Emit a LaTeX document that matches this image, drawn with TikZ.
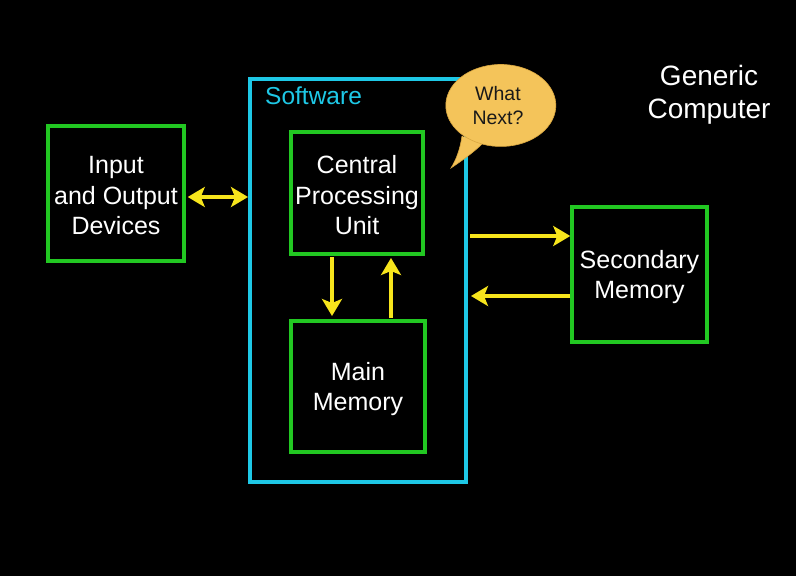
\documentclass[tikz,border=0pt]{standalone}
\usepackage{fontspec}
\setmainfont{Liberation Sans}
\usetikzlibrary{arrows.meta,shapes.geometric}
\definecolor{boxgreen}{HTML}{22C822}
\definecolor{swcyan}{HTML}{1EC8E6}
\definecolor{arrowyellow}{HTML}{F7E51C}
\definecolor{bubblefill}{HTML}{F4C45A}
\definecolor{bubbleline}{HTML}{D9A640}
\begin{document}
\begin{tikzpicture}[x=1pt,y=-1pt,
  greenbox/.style={draw=boxgreen,line width=3.5pt,inner sep=0pt},
  boxtext/.style={text=white,align=center,font=\fontsize{25}{30.5}\selectfont,yshift=-2.5pt},
  yarrow/.style={draw=arrowyellow,line width=4pt,
    -{Stealth[length=17pt,width=20pt,inset=4pt]}},
  darrow/.style={draw=arrowyellow,line width=4pt,
    {Stealth[length=17pt,width=20pt,inset=4pt]}-{Stealth[length=17pt,width=20pt,inset=4pt]}}]
\fill[black] (0,0) rectangle (796,576);
\useasboundingbox (0,0) rectangle (796,576);
% Software box
\draw[swcyan,line width=3.5pt] (250,79) rectangle (466,482);
\node[text=swcyan,font=\fontsize{24.5}{29}\selectfont,anchor=west,inner sep=0pt] (sw) at (265,96) {Software};
% boxes
\node[greenbox,minimum width=136pt,minimum height=135pt,
  label={[boxtext]center:Input\\and Output\\Devices}] (io) at (116,193.5) {};
\node[greenbox,minimum width=132pt,minimum height=122pt,
  label={[boxtext]center:Central\\Processing\\Unit}] (cpu) at (357,193) {};
\node[greenbox,minimum width=134pt,minimum height=131pt,
  label={[boxtext]center:Main\\Memory}] (mm) at (358,386.5) {};
\node[greenbox,minimum width=135pt,minimum height=135pt,
  label={[boxtext]center:Secondary\\Memory}] (sm) at (639.5,274.5) {};
% generic computer
\node[text=white,align=center,font=\fontsize{28}{33.5}\selectfont] (gc) at (709,95) {Generic\\Computer};
% bubble
\coordinate (tail) at (451,168);
\fill[bubblefill,draw=bubbleline,line width=0.6pt]
  (462,136) .. controls (460,150) and (456,160) .. (tail)
  .. controls (466,158) and (476,150) .. (482,144)
  arc[start angle=-110, end angle=250, x radius=55, y radius=-41];
\node[font=\fontsize{19.5}{24}\selectfont,text=black!90,align=center] (wn) at (498,106) {What\\Next?};
% arrows
\coordinate (swl) at (248,197);
\coordinate (swr1) at (470,236);
\coordinate (swr2) at (471,296);
\draw[darrow] (io.east |- swl) ++(2,0) -- (swl);
\draw[yarrow] (332,257) -- (332,316);
\draw[yarrow] (391,318) -- (391,258);
\draw[yarrow] (swr1) -- (sm.west |- swr1);
\draw[yarrow] (sm.west |- swr2) -- (swr2);
\end{tikzpicture}
\end{document}
